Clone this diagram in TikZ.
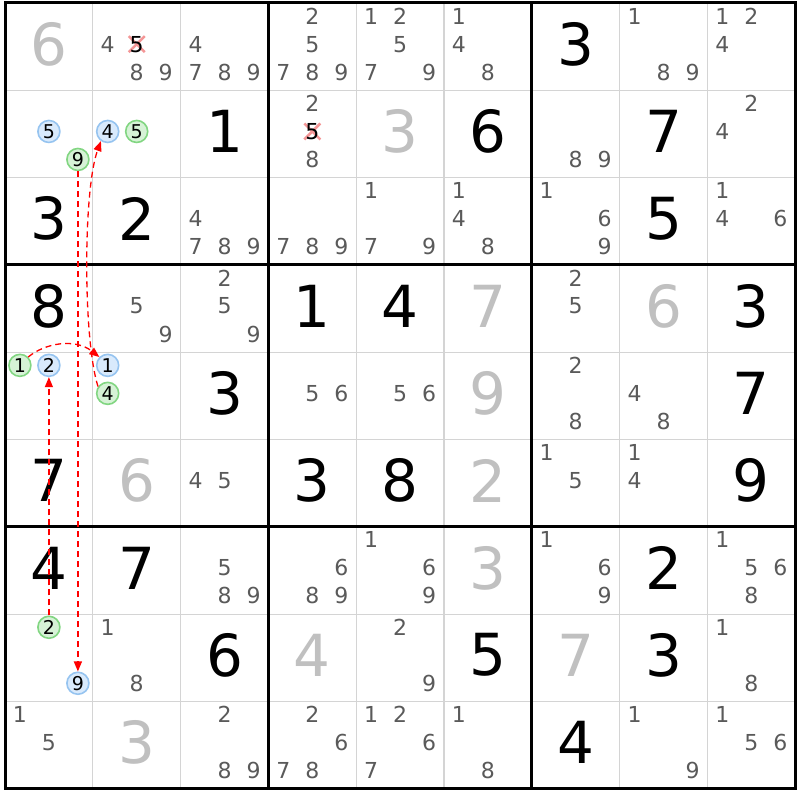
\documentclass[tikz,border=0pt]{standalone}
\usepackage{fontspec}
\setmainfont{DejaVu Sans}
\usetikzlibrary{arrows.meta}
\definecolor{candcol}{RGB}{90,90,90}
\definecolor{givencol}{RGB}{192,192,192}
\definecolor{gridgray}{RGB}{212,212,212}
\definecolor{bluefill}{RGB}{217,234,252}
\definecolor{blueline}{RGB}{150,196,240}
\definecolor{greenfill}{RGB}{214,242,214}
\definecolor{greenline}{RGB}{130,214,130}
\definecolor{crosscol}{RGB}{244,150,150}
\tikzset{
  gridthin/.style={draw=gridgray, line width=1.2pt},
  gridthick/.style={draw=black, line width=3pt, line cap=rect},
  bigdig/.style={inner sep=0pt, font=\fontsize{58}{58}\selectfont},
  cand/.style={inner sep=0pt, text=candcol, font=\fontsize{22}{22}\selectfont},
  circcand/.style={circle, inner sep=0pt, minimum size=22pt, line width=1.6pt, text=black, font=\fontsize{19}{19}\selectfont},
  bluec/.style={circcand, draw=blueline, fill=bluefill},
  greenc/.style={circcand, draw=greenline, fill=greenfill},
  crossx/.style={draw=crosscol, line width=2.5pt},
  link/.style={draw=red, line width=1.3pt, dash pattern=on 6pt off 4pt, -{Triangle[length=10pt,width=8pt]}}
}
\newcommand\SDval[4]{\node[bigdig, text=#4] (v#1#2) at ({5+(#2-0.5)*87.8},{3+(#1-0.5)*87.3-2.5}) {#3};}
\newcommand\SDcand[3]{\foreach \n in {#3} {
  \pgfmathtruncatemacro\cx{mod(\n-1,3)}
  \pgfmathtruncatemacro\cy{(\n-1)/3}
  \node[cand] (k#1#2\n) at ({5+(#2-0.5)*87.8+(\cx-1)*29},{3+(#1-0.5)*87.3-2.5+(\cy-1)*28}) {\n};}}
\newcommand\SDcirc[4]{
  \pgfmathtruncatemacro\cx{mod(#3-1,3)}
  \pgfmathtruncatemacro\cy{(#3-1)/3}
  \node[#4] (k#1#2#3) at ({5+(#2-0.5)*87.8+(\cx-1)*29},{3+(#1-0.5)*87.3-2.5+(\cy-1)*28}) {#3};}
\newcommand\SDcross[3]{
  \pgfmathtruncatemacro\cx{mod(#3-1,3)}
  \pgfmathtruncatemacro\cy{(#3-1)/3}
  \coordinate (x#1#2#3) at ({5+(#2-0.5)*87.8+(\cx-1)*29},{3+(#1-0.5)*87.3-2.5+(\cy-1)*28});
  \draw[crossx] ([shift={(-8,-8)}]x#1#2#3) -- ([shift={(8,8)}]x#1#2#3);
  \draw[crossx] ([shift={(-8,8)}]x#1#2#3) -- ([shift={(8,-8)}]x#1#2#3);
  \node[cand, text=black] (k#1#2#3) at (x#1#2#3) {#3};}
\begin{document}
\begin{tikzpicture}[x=1pt,y=-1pt]
\path[use as bounding box, fill=white] (0,0) rectangle (800,800);
% grid
\foreach \i in {1,2,4,5,7,8} {
  \draw[gridthin] ({5+\i*87.8},3) -- ({5+\i*87.8},788.7);
  \draw[gridthin] (5,{3+\i*87.3}) -- (795.2,{3+\i*87.3});
}
\foreach \i in {0,3,6,9} {
  \draw[gridthick] ({5+\i*87.8},3) -- ({5+\i*87.8},788.7);
  \draw[gridthick] (5,{3+\i*87.3}) -- (795.2,{3+\i*87.3});
}
% values
\SDval{1}{1}{6}{givencol} \SDval{1}{7}{3}{black}
\SDval{2}{3}{1}{black} \SDval{2}{5}{3}{givencol} \SDval{2}{6}{6}{black} \SDval{2}{8}{7}{black}
\SDval{3}{1}{3}{black} \SDval{3}{2}{2}{black} \SDval{3}{8}{5}{black}
\SDval{4}{1}{8}{black} \SDval{4}{4}{1}{black} \SDval{4}{5}{4}{black} \SDval{4}{6}{7}{givencol} \SDval{4}{8}{6}{givencol} \SDval{4}{9}{3}{black}
\SDval{5}{3}{3}{black} \SDval{5}{6}{9}{givencol} \SDval{5}{9}{7}{black}
\SDval{6}{1}{7}{black} \SDval{6}{2}{6}{givencol} \SDval{6}{4}{3}{black} \SDval{6}{5}{8}{black} \SDval{6}{6}{2}{givencol} \SDval{6}{9}{9}{black}
\SDval{7}{1}{4}{black} \SDval{7}{2}{7}{black} \SDval{7}{6}{3}{givencol} \SDval{7}{8}{2}{black}
\SDval{8}{3}{6}{black} \SDval{8}{4}{4}{givencol} \SDval{8}{6}{5}{black} \SDval{8}{7}{7}{givencol} \SDval{8}{8}{3}{black}
\SDval{9}{2}{3}{givencol} \SDval{9}{7}{4}{black}
% candidates
\SDcand{1}{2}{4,8,9} \SDcross{1}{2}{5}
\SDcand{1}{3}{4,7,8,9} \SDcand{1}{4}{2,5,7,8,9} \SDcand{1}{5}{1,2,5,7,9} \SDcand{1}{6}{1,4,8} \SDcand{1}{8}{1,8,9} \SDcand{1}{9}{1,2,4}
\SDcirc{2}{1}{5}{bluec} \SDcirc{2}{1}{9}{greenc} \SDcirc{2}{2}{4}{bluec} \SDcirc{2}{2}{5}{greenc}
\SDcand{2}{4}{2,8} \SDcross{2}{4}{5} \SDcand{2}{7}{8,9} \SDcand{2}{9}{2,4}
\SDcand{3}{3}{4,7,8,9} \SDcand{3}{4}{7,8,9} \SDcand{3}{5}{1,7,9} \SDcand{3}{6}{1,4,8} \SDcand{3}{7}{1,6,9} \SDcand{3}{9}{1,4,6}
\SDcand{4}{2}{5,9} \SDcand{4}{3}{2,5,9} \SDcand{4}{7}{2,5}
\SDcirc{5}{1}{1}{greenc} \SDcirc{5}{1}{2}{bluec} \SDcirc{5}{2}{1}{bluec} \SDcirc{5}{2}{4}{greenc}
\SDcand{5}{4}{5,6} \SDcand{5}{5}{5,6} \SDcand{5}{7}{2,8} \SDcand{5}{8}{4,8}
\SDcand{6}{3}{4,5} \SDcand{6}{7}{1,5} \SDcand{6}{8}{1,4}
\SDcand{7}{3}{5,8,9} \SDcand{7}{4}{6,8,9} \SDcand{7}{5}{1,6,9} \SDcand{7}{7}{1,6,9} \SDcand{7}{9}{1,5,6,8}
\SDcirc{8}{1}{2}{greenc} \SDcirc{8}{1}{9}{bluec}
\SDcand{8}{2}{1,8} \SDcand{8}{5}{2,9} \SDcand{8}{9}{1,8}
\SDcand{9}{1}{1,5} \SDcand{9}{3}{2,8,9} \SDcand{9}{4}{2,6,7,8} \SDcand{9}{5}{1,2,6,7} \SDcand{9}{6}{1,8} \SDcand{9}{8}{1,9} \SDcand{9}{9}{1,5,6}
% links
\draw[link] (k812) -- (k512);
\draw[link] (k219) -- (k819);
\draw[link] (k511.45) .. controls (45,343) and (75,338) .. (k521.135);
\draw[link] (k524.145) .. controls (83,340) and (83,190) .. (k224.235);
\end{tikzpicture}
\end{document}
